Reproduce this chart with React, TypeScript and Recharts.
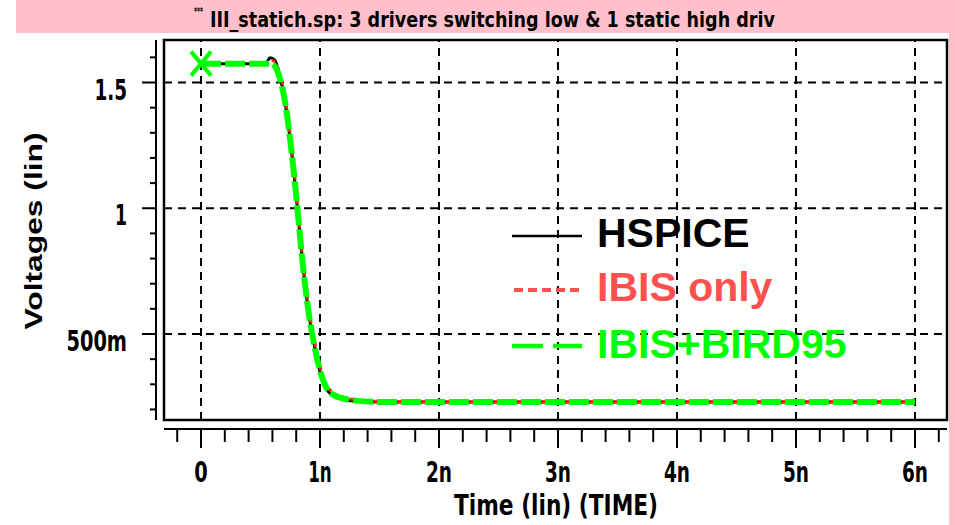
import { LineChart, Line, XAxis, YAxis, ReferenceLine, ReferenceArea, Legend } from 'recharts';

// time axis in ns, voltages in V
const timeNs = [0, 0.3, 0.5, 0.55, 0.58, 0.62, 0.66, 0.7, 0.75, 0.8, 0.85, 0.9, 0.95, 1.0, 1.05, 1.1, 1.2, 1.3, 1.5, 2, 3, 4, 5, 6];
const hspiceV = [1.575, 1.575, 1.575, 1.58, 1.598, 1.588, 1.53, 1.44, 1.27, 1.05, 0.8, 0.6, 0.46, 0.35, 0.285, 0.258, 0.24, 0.233, 0.23, 0.23, 0.23, 0.23, 0.23, 0.23];
const ibisOnlyV = [1.575, 1.575, 1.575, 1.578, 1.59, 1.582, 1.54, 1.46, 1.29, 1.07, 0.82, 0.62, 0.48, 0.37, 0.3, 0.27, 0.248, 0.238, 0.232, 0.23, 0.23, 0.23, 0.23, 0.23];
const ibisBird95V = [1.575, 1.575, 1.575, 1.575, 1.575, 1.565, 1.52, 1.44, 1.27, 1.05, 0.8, 0.6, 0.46, 0.355, 0.29, 0.262, 0.243, 0.235, 0.23, 0.23, 0.23, 0.23, 0.23, 0.23];

const xRulerTicks = [-0.2, 0, 0.2, 0.4, 0.6, 0.8, 1, 1.2, 1.4, 1.6, 1.8, 2, 2.2, 2.4, 2.6, 2.8, 3, 3.2, 3.4, 3.6, 3.8, 4, 4.2, 4.4, 4.6, 4.8, 5, 5.2, 5.4, 5.6, 5.8, 6, 6.2];
const xMajorTicks = [0, 1, 2, 3, 4, 5, 6];
const xMajorLabels = ['0', '1n', '2n', '3n', '4n', '5n', '6n'];
const yRulerTicks = [0.2, 0.3, 0.4, 0.5, 0.6, 0.7, 0.8, 0.9, 1, 1.1, 1.2, 1.3, 1.4, 1.5, 1.6];
const yMajorTicks = [0.5, 1, 1.5];
const yMajorLabels = ['500m', '1', '1.5'];

const X_DOMAIN: [number, number] = [-0.311, 6.269];
const Y_DOMAIN: [number, number] = [0.158, 1.669];

const data = timeNs.map((t, i) => ({
  t,
  hspice: hspiceV[i],
  ibis: ibisOnlyV[i],
  bird: ibisBird95V[i],
}));

const NARROW = '"Liberation Sans Narrow", "DejaVu Sans Condensed", "DejaVu Sans", sans-serif';
const SANS = '"Liberation Sans", Arial, sans-serif';
const PINK = '#ffc0cb';

// the original plot uses a very condensed font, so squeeze the labels to its widths
const charWidth = (s: string) =>
  s.split('').reduce((w, c) => w + (c === '.' ? 8 : c === 'm' ? 21 : c === '1' ? 10 : 12.5), 0);

function Squeezed({ x, y, width, size, anchor = 'start', children }: any) {
  return (
    <text
      x={x}
      y={y}
      textAnchor={anchor}
      textLength={width}
      lengthAdjust="spacingAndGlyphs"
      fontFamily={NARROW}
      fontWeight="bold"
      fontSize={size}
      fill="#000"
    >
      {children}
    </text>
  );
}

function TimeTick({ x, y, payload }: any) {
  const i = xMajorTicks.indexOf(payload.value);
  const major = i >= 0;
  return (
    <g>
      <line x1={x} y1={y} x2={x} y2={y + (major ? 19 : 13)} stroke="#000" strokeWidth={2} />
      {major && (
        <Squeezed x={x} y={y + 53} width={charWidth(xMajorLabels[i]) + 1} size={29} anchor="middle">
          {xMajorLabels[i]}
        </Squeezed>
      )}
    </g>
  );
}

function VoltTick({ x, y, payload }: any) {
  const i = yMajorTicks.indexOf(payload.value);
  const major = i >= 0;
  return (
    <g>
      <line x1={x} y1={y} x2={x - (major ? 14 : 6)} y2={y} stroke="#000" strokeWidth={2} />
      {major && (
        <Squeezed x={x - 29} y={y + 17} width={charWidth(yMajorLabels[i]) + 2} size={28} anchor="end">
          {yMajorLabels[i]}
        </Squeezed>
      )}
    </g>
  );
}

const birdDot = (props: any) => {
  const { cx, cy, index } = props;
  if (index !== 0) return <g key={`d${index}`} />;
  return (
    <g key="marker">
      <line x1={cx - 10} y1={cy - 12} x2={cx + 10} y2={cy + 12} stroke="#00ff00" strokeWidth={4} />
      <line x1={cx - 10} y1={cy + 12} x2={cx + 10} y2={cy - 12} stroke="#00ff00" strokeWidth={4} />
    </g>
  );
};

function LegendBox() {
  return (
    <svg width={370} height={180} style={{ overflow: 'visible' }}>
      <line x1={12} y1={36} x2={82} y2={36} stroke="#000" strokeWidth={2.5} />
      <text x={97} y={47} fontFamily={SANS} fontWeight="bold" fontSize={41} fill="#000">HSPICE</text>
      <line x1={14} y1={90} x2={82} y2={90} stroke="#ff5050" strokeWidth={4} strokeDasharray="9 5" />
      <text x={97} y={101} fontFamily={SANS} fontWeight="bold" fontSize={41} fill="#ff5050">IBIS only</text>
      <line x1={12} y1={146} x2={82} y2={146} stroke="#00ff00" strokeWidth={4.5} strokeDasharray="31 10" />
      <text x={97} y={158} fontFamily={SANS} fontWeight="bold" fontSize={41} fill="#00ff00">IBIS+BIRD95</text>
    </svg>
  );
}

const yTitle = () => (
  <text
    x={33}
    y={231}
    transform="rotate(-90 33 231)"
    textAnchor="middle"
    dominantBaseline="central"
    textLength={197}
    lengthAdjust="spacingAndGlyphs"
    fontFamily={SANS}
    fontWeight="bold"
    fontSize={24}
    fill="#000"
  >
    Voltages (lin)
  </text>
);

const xTitle = () => (
  <Squeezed x={556} y={515} width={204} size={29} anchor="middle">
    Time (lin) (TIME)
  </Squeezed>
);

export default function App() {
  return (
    <div style={{ position: 'absolute', left: 0, top: 0, width: 955, height: 525, background: '#fff', overflow: 'hidden' }}>
      <div style={{ position: 'absolute', left: 16, top: 0, width: 939, height: 33, background: PINK }}>
        <svg width={939} height={33}>
          <Squeezed x={178} y={15} width={9} size={10}>***</Squeezed>
          <Squeezed x={194} y={27} width={565} size={22}>
            III_statich.sp: 3 drivers switching low &amp; 1 static high driv
          </Squeezed>
        </svg>
      </div>
      <div style={{ position: 'absolute', left: 949, top: 0, width: 6, height: 525, background: PINK }} />
      <div style={{ position: 'absolute', left: 0, top: 0 }}>
        <LineChart width={955} height={525} data={data} margin={{ top: 40, right: 8, left: 0, bottom: 0 }}>
          <XAxis xAxisId="gap" dataKey="t" type="number" domain={X_DOMAIN} allowDataOverflow height={9} axisLine={false} tickLine={false} tick={false} />
          <XAxis
            xAxisId="t"
            dataKey="t"
            type="number"
            domain={X_DOMAIN}
            allowDataOverflow
            ticks={xRulerTicks}
            interval={0}
            height={96}
            tickSize={0}
            tickMargin={0}
            tickLine={false}
            axisLine={{ stroke: '#000', strokeWidth: 2 }}
            tick={<TimeTick />}
            label={xTitle}
          />
          <YAxis yAxisId="gap" type="number" domain={Y_DOMAIN} allowDataOverflow width={8} axisLine={false} tickLine={false} tick={false} />
          <YAxis
            yAxisId="v"
            type="number"
            domain={Y_DOMAIN}
            allowDataOverflow
            ticks={yRulerTicks}
            interval={0}
            width={156}
            tickSize={0}
            tickMargin={0}
            tickLine={false}
            axisLine={{ stroke: '#000', strokeWidth: 2 }}
            tick={<VoltTick />}
            label={yTitle}
          />
          {xMajorTicks.map((v) => (
            <ReferenceLine key={`gx${v}`} xAxisId="t" yAxisId="v" x={v} stroke="#000" strokeWidth={2} strokeDasharray="8 6" />
          ))}
          {yMajorTicks.map((v) => (
            <ReferenceLine key={`gy${v}`} xAxisId="t" yAxisId="v" y={v} stroke="#000" strokeWidth={2} strokeDasharray="8 6" />
          ))}
          <ReferenceArea
            xAxisId="t"
            yAxisId="v"
            x1={X_DOMAIN[0]}
            x2={X_DOMAIN[1]}
            y1={Y_DOMAIN[0]}
            y2={Y_DOMAIN[1]}
            fill="none"
            fillOpacity={0}
            stroke="#000"
            strokeWidth={2.5}
            ifOverflow="visible"
          />
          <Line xAxisId="t" yAxisId="v" type="monotone" dataKey="hspice" name="HSPICE" stroke="#000" strokeWidth={3} dot={false} isAnimationActive={false} />
          <Line xAxisId="t" yAxisId="v" type="monotone" dataKey="ibis" name="IBIS only" stroke="#ff2020" strokeWidth={3} strokeDasharray="4 4" dot={false} isAnimationActive={false} />
          <Line xAxisId="t" yAxisId="v" type="monotone" dataKey="bird" name="IBIS+BIRD95" stroke="#00ff00" strokeWidth={6} strokeDasharray="20 4" dot={birdDot} isAnimationActive={false} />
          <Legend
            verticalAlign="middle"
            align="center"
            content={<LegendBox />}
            wrapperStyle={{ position: 'absolute', left: 500, top: 200, width: 370, height: 180 }}
          />
        </LineChart>
      </div>
    </div>
  );
}
